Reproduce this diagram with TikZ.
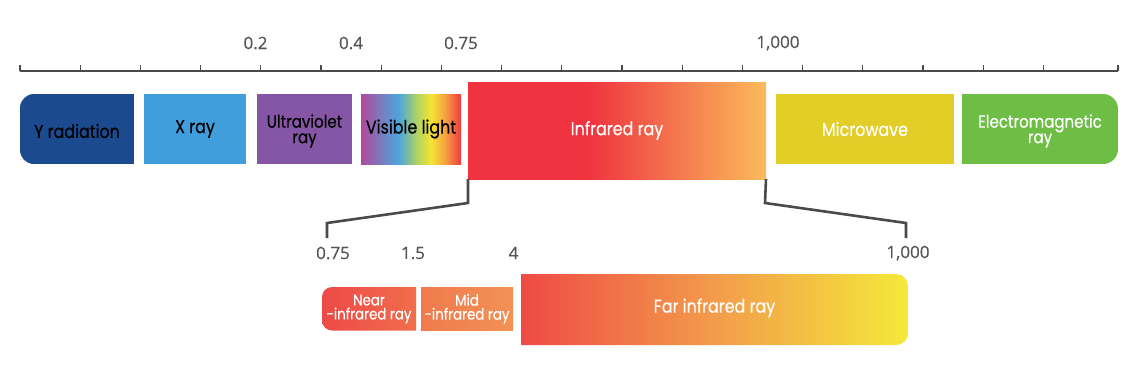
\documentclass[tikz,border=0pt]{standalone}
\usepackage{fontspec}
\setmainfont{Poppins}[FakeStretch=0.86, FakeBold=0.4]
\newfontfamily\numfont{Open Sans}[FakeBold=0.5]
\definecolor{cY}{HTML}{1B4A8E}
\definecolor{cX}{HTML}{3F9EDB}
\definecolor{cUV}{HTML}{8556A6}
\definecolor{cMW}{HTML}{E2CE27}
\definecolor{cEM}{HTML}{6EBE45}
\definecolor{cLine}{HTML}{4A4A4A}
\definecolor{cNum}{HTML}{555555}
\definecolor{vA}{HTML}{B04A9E}
\definecolor{vB}{HTML}{4BA6DE}
\definecolor{vC}{HTML}{A7CF6B}
\definecolor{vD}{HTML}{F4E532}
\definecolor{vE}{HTML}{F6A140}
\definecolor{vF}{HTML}{EE3A3F}
\definecolor{irA}{HTML}{EF3340}
\definecolor{irB}{HTML}{FBBB5B}
\definecolor{fA}{HTML}{EE4A45}
\definecolor{fB}{HTML}{F39C4B}
\definecolor{fC}{HTML}{F4E93A}
\definecolor{nA}{HTML}{ED4A47}
\definecolor{nB}{HTML}{F06E4B}
\definecolor{mA}{HTML}{F07A4D}
\definecolor{mB}{HTML}{F29256}
\pgfdeclarehorizontalshading{visshade}{100bp}{color(0bp)=(vA); color(25bp)=(vA); color(44bp)=(vB); color(52bp)=(vC); color(60bp)=(vD); color(67bp)=(vE); color(75bp)=(vF); color(100bp)=(vF)}
\pgfdeclarehorizontalshading{irshade}{100bp}{color(0bp)=(irA); color(25bp)=(irA); color(45bp)=(irA); color(75bp)=(irB); color(100bp)=(irB)}
\pgfdeclarehorizontalshading{farshade}{100bp}{color(0bp)=(fA); color(25bp)=(fA); color(50bp)=(fB); color(75bp)=(fC); color(100bp)=(fC)}
\begin{document}
\begin{tikzpicture}[x=1pt,y=-1pt,
  boxtxt/.style={font=\fontsize{18.5}{16}\selectfont, align=center, inner sep=0pt, outer sep=0pt},
  twotxt/.style={font=\fontsize{17.5}{15.5}\selectfont, align=center, inner sep=0pt, outer sep=0pt},
  smalltxt/.style={font=\fontsize{15.5}{14}\selectfont, align=center, inner sep=0pt, text=white},
  num/.style={font=\numfont\fontsize{17}{17}\selectfont, text=cNum, inner sep=0pt},
  axisline/.style={cLine, line width=1.3pt},
  brk/.style={cLine, line width=2.6pt},
]
\useasboundingbox (0,0) rectangle (1140,380);

% scale axis
\coordinate (axL) at (20,71);
\coordinate (axR) at (1118,71);
\draw[axisline] (axL) -- (axR);
\foreach \k in {0,...,17} \draw[axisline] ({20+60.2*\k},71) -- ++(0,-6);
\draw[axisline] (axR) -- ++(0,-6);

% top labels
\node[num] (l02) at (255.5,43) {0.2};
\node[num] (l04) at (351,43) {0.4};
\node[num] (l075) at (461,43) {0.75};
\node[num] (l1000) at (778,43) {1,000};

% top boxes
\begin{scope}
  \clip[rounded corners=14pt] (20,94) rectangle (170,164);
  \fill[cY] (20,94) rectangle (134,164);
\end{scope}
\node[boxtxt, text=black] (yrad) at (77,131) {Y radiation};

\node[boxtxt, fill=cX, minimum width=102pt, minimum height=70pt] (xray) at (195,129) {X ray};
\fill[cUV] (257,94) rectangle (352,164);
\node[twotxt, text=black] (uv) at (304.5,131) {Ultraviolet\\ray};
\node[boxtxt, shade, shading=visshade, minimum width=100pt, minimum height=70pt] (vis) at (411,129) {Visible light};
\node[boxtxt, shade, shading=irshade, minimum width=298pt, minimum height=97pt, text=white] (ir) at (617,130.5) {Infrared ray};
\node[boxtxt, fill=cMW, minimum width=178pt, minimum height=70pt, text=white] (mw) at (865,129) {Microwave};
\begin{scope}
  \clip[rounded corners=15pt] (920,94) rectangle (1118,164);
  \fill[cEM] (962,94) rectangle (1118,164);
\end{scope}
\node[twotxt, text=white] (em) at (1040,131) {Electromagnetic\\ray};

% bracket
\coordinate (bL1) at (468,203);
\coordinate (bL2) at (327,223);
\coordinate (bL3) at (327,238);
\coordinate (bR1) at (765,203);
\coordinate (bR2) at (906,223);
\coordinate (bR3) at (906,238);
\draw[brk] (ir.south west) -- (bL1) -- (bL2) -- (bL3);
\draw[brk] (ir.south east) -- (bR1) -- (bR2) -- (bR3);

% lower labels
\node[num] (m075) at (333,253) {0.75};
\node[num] (m15) at (413,253) {1.5};
\node[num] (m4) at (513.5,253) {4};
\node[num] (m1000) at (908,253) {1,000};

% lower boxes
\begin{scope}
  \clip[rounded corners=10pt] (322,287) rectangle (460,330.5);
  \shade[left color=nA, right color=nB] (322,287) rectangle (416,330.5);
\end{scope}
\node[smalltxt] (near) at (369,309) {Near\\-infrared ray};
\node[smalltxt, shade, left color=mA, right color=mB, minimum width=92pt, minimum height=43.5pt] (mid) at (467,308.75) {Mid\\-infrared ray};
\begin{scope}
  \clip[rounded corners=12pt] (480,274) rectangle (908,345);
  \shade[shading=farshade] (521,274) rectangle (908,345);
\end{scope}
\node[boxtxt, text=white] (far) at (714.5,308) {Far infrared ray};
\end{tikzpicture}
\end{document}
